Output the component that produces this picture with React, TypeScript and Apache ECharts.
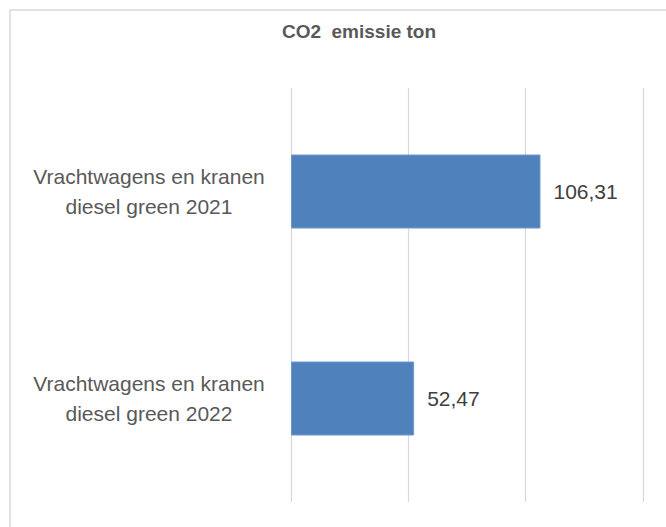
import React, { useEffect, useRef } from "react";
import * as echarts from "echarts";

const titleText = "CO2  emissie ton";
const categories = [
  "Vrachtwagens en kranen\ndiesel green 2021",
  "Vrachtwagens en kranen\ndiesel green 2022",
];
const values = [106.31, 52.47];
const axisMin = 0;
const axisMax = 150;
const axisInterval = 50;

export default function App() {
  const ref = useRef<HTMLDivElement>(null);
  useEffect(() => {
    if (!ref.current) return;
    const chart = echarts.init(ref.current, undefined, { renderer: "svg" });
    chart.setOption({
      animation: false,
      backgroundColor: "#ffffff",
      textStyle: { fontFamily: "Liberation Sans, Arial, sans-serif" },
      title: {
        text: titleText,
        left: 354,
        textAlign: "center",
        top: 17,
        textStyle: {
          fontFamily: "Liberation Sans, Arial, sans-serif",
          fontSize: 19,
          fontWeight: "bold",
          color: "#595959",
        },
      },
      graphic: [
        {
          type: "rect",
          shape: { x: 10, y: 10, width: 700, height: 600 },
          style: { fill: "none", stroke: "#D9D9D9", lineWidth: 1.5 },
          silent: true,
          z: -1,
        },
      ],
      grid: { left: 291, right: 23, top: 88, bottom: 25 },
      xAxis: {
        type: "value",
        min: axisMin,
        max: axisMax,
        interval: axisInterval,
        axisLabel: { show: false },
        axisLine: { show: false },
        axisTick: { show: false },
        splitLine: { show: true, lineStyle: { color: "#D9D9D9", width: 1.2 } },
      },
      yAxis: {
        type: "category",
        data: categories,
        inverse: true,
        axisLine: { show: false },
        axisTick: { show: false },
        axisLabel: {
          align: "center",
          margin: 142,
          fontSize: 21,
          lineHeight: 30,
          color: "#595959",
          fontFamily: "Liberation Sans, Arial, sans-serif",
        },
      },
      series: [
        {
          type: "bar",
          data: values,
          barWidth: 74,
          itemStyle: { color: "#4F81BD", borderColor: "#6E98CC", borderWidth: 1 },
          label: {
            show: true,
            position: "right",
            distance: 13,
            fontSize: 21,
            color: "#404040",
            fontFamily: "Liberation Sans, Arial, sans-serif",
            formatter: (p: any) => Number(p.value).toFixed(2).replace(".", ","),
          },
        },
      ],
    });
    return () => chart.dispose();
  }, []);
  return (
    <div
      ref={ref}
      style={{ position: "fixed", left: 0, top: 0, width: 666, height: 527 }}
    />
  );
}
